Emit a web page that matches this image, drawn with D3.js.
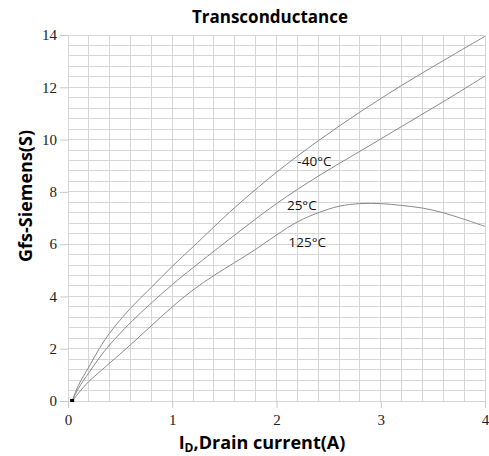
<!DOCTYPE html>
<meta charset="utf-8">
<title>Transconductance</title>
<script src="https://d3js.org/d3.v7.min.js"></script>
<style>
    body { margin: 0; background: #fff; }
    .lbl { font-family: "Open Sans", "Lato", sans-serif; }
</style>
<body>
<script>

    // Drain current (A) and Gfs (S)
    const iMinus40 = [0.04, 0.1, 0.2, 0.3, 0.4, 0.6, 0.8, 1.0, 1.2, 1.6, 2.0, 2.4, 2.8, 3.2, 3.6, 4.0];
    const gMinus40 = [0, 0.6, 1.3, 2.0, 2.6, 3.55, 4.35, 5.15, 5.9, 7.4, 8.75, 9.95, 11.05, 12.07, 13.02, 13.95];

    const i25 = [0.04, 0.1, 0.2, 0.3, 0.4, 0.6, 0.8, 1.0, 1.2, 1.6, 2.0, 2.4, 2.8, 3.2, 3.6, 4.0];
    const g25 = [0, 0.48, 1.08, 1.65, 2.15, 3.0, 3.75, 4.45, 5.1, 6.35, 7.55, 8.6, 9.55, 10.5, 11.45, 12.43];

    const i125 = [0.04, 0.1, 0.2, 0.3, 0.4, 0.6, 0.8, 1.0, 1.2, 1.4, 1.6, 1.8, 2.0, 2.2, 2.4, 2.6, 2.8, 3.0, 3.2, 3.4, 3.6, 3.8, 4.0];
    const g125 = [0, 0.3, 0.75, 1.1, 1.45, 2.15, 2.88, 3.6, 4.25, 4.8, 5.3, 5.8, 6.35, 6.85, 7.2, 7.45, 7.55, 7.55, 7.48, 7.38, 7.2, 6.95, 6.68];

    const seriesNames = ["-40°C", "25°C", "125°C"];
    // where each curve label sits (data coords, baseline)
    const labelPos = [[2.2, 8.97], [2.1, 7.32], [2.115, 5.9]];

    const xTicks = [0, 1, 2, 3, 4];
    const yTicks = [0, 2, 4, 6, 8, 10, 12, 14];

    const width = 489, height = 456;
    const margin = {top: 35, right: 4, bottom: 55, left: 68};

    const svg = d3.select("body").append("svg")
        .attr("width", width)
        .attr("height", height);

    const x = d3.scaleLinear().domain([0, 4]).range([margin.left, width - margin.right]);
    const y = d3.scaleLinear().domain([0, 14]).range([height - margin.bottom, margin.top]);

    // grid: 0.2 A by 0.4 S
    const xGrid = d3.range(0, 4.0001, 0.2);
    const yGrid = d3.range(0, 14.0001, 0.4);

    svg.append("g").selectAll("line").data(xGrid).enter().append("line")
        .attr("x1", d => x(d)).attr("x2", d => x(d))
        .attr("y1", y(0)).attr("y2", y(14))
        .attr("stroke", "#d6d6d6").attr("shape-rendering", "crispEdges");

    svg.append("g").selectAll("line").data(yGrid).enter().append("line")
        .attr("x1", x(0)).attr("x2", x(4))
        .attr("y1", d => y(d)).attr("y2", d => y(d))
        .attr("stroke", "#d6d6d6").attr("shape-rendering", "crispEdges");

    // axes (tick marks only, grey like the grid)
    const xAxis = svg.append("g")
        .attr("transform", "translate(0," + y(0) + ")")
        .call(d3.axisBottom(x).tickValues(xTicks).tickFormat(d3.format("d")).tickSize(7).tickPadding(6));
    const yAxis = svg.append("g")
        .attr("transform", "translate(" + x(0) + ",0)")
        .call(d3.axisLeft(y).tickValues(yTicks).tickFormat(d3.format("d")).tickSize(8).tickPadding(3));

    [xAxis, yAxis].forEach(a => {
        a.attr("font-family", "'Liberation Serif', 'DejaVu Serif', serif").attr("font-size", 15);
        a.select(".domain").remove();
        a.selectAll(".tick line").attr("stroke", "#c8c8c8");
        a.selectAll(".tick text").attr("fill", "#222");
    });

    // curves
    const line = d3.line()
        .x(d => x(d[0]))
        .y(d => y(d[1]))
        .curve(d3.curveCatmullRom.alpha(0.5));

    const curves = [
        d3.zip(iMinus40, gMinus40),
        d3.zip(i25, g25),
        d3.zip(i125, g125)
    ];

    svg.append("g").selectAll("path").data(curves).enter().append("path")
        .attr("d", line)
        .attr("fill", "none")
        .attr("stroke", "#8a8a8a")
        .attr("stroke-width", 1);

    // small start marker
    svg.append("rect")
        .attr("x", x(0.04) - 2).attr("y", y(0) - 2)
        .attr("width", 4).attr("height", 3)
        .attr("fill", "#000");

    // curve labels
    svg.append("g").selectAll("text").data(seriesNames).enter().append("text")
        .attr("class", "lbl")
        .attr("x", (d, i) => x(labelPos[i][0]))
        .attr("y", (d, i) => y(labelPos[i][1]))
        .attr("font-size", 13.5)
        .attr("fill", "#111")
        .text(d => d);

    // title
    svg.append("text")
        .attr("class", "lbl")
        .attr("x", 270).attr("y", 23)
        .attr("text-anchor", "middle")
        .attr("font-size", 17).attr("font-weight", "bold")
        .text("Transconductance");

    // y label
    svg.append("text")
        .attr("class", "lbl")
        .attr("transform", "translate(32,196) rotate(-90)")
        .attr("text-anchor", "middle")
        .attr("font-size", 18).attr("font-weight", "bold")
        .text("Gfs-Siemens(S)");

    // x label with subscript D
    const xl = svg.append("text")
        .attr("class", "lbl")
        .attr("x", 262).attr("y", 449)
        .attr("text-anchor", "middle")
        .attr("font-size", 18).attr("font-weight", "bold");
    xl.append("tspan").text("I");
    xl.append("tspan").attr("font-size", 12).attr("dy", 3).text("D");
    xl.append("tspan").attr("dy", -3).text(",Drain current(A)");

</script>
</body>
